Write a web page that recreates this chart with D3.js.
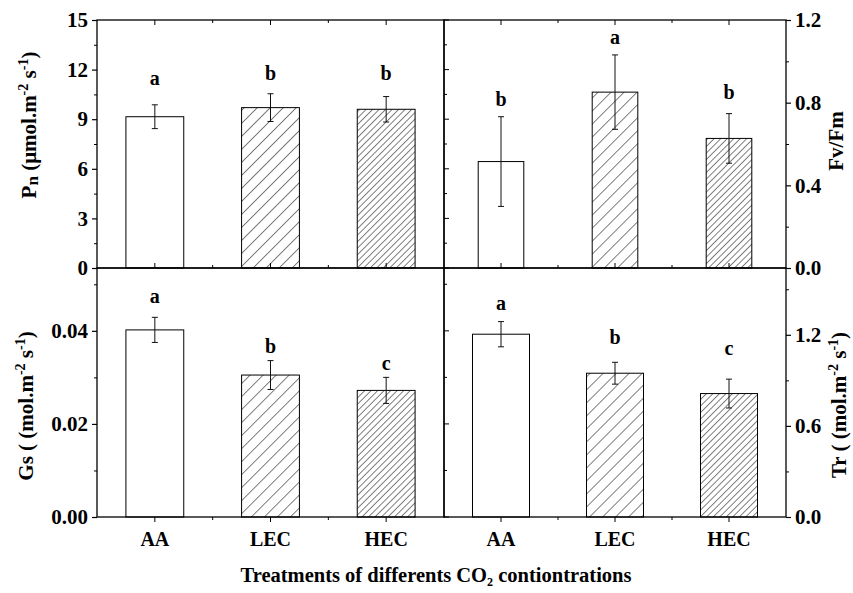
<!DOCTYPE html>
<html>
<head>
<meta charset="utf-8">
<script src="https://cdn.jsdelivr.net/npm/d3@7"></script>
<style>
  body { margin: 0; background: #fff; }
  text { font-family: "Liberation Serif", "Times New Roman", serif; font-weight: bold; fill: #000; }
</style>
</head>
<body>
<div id="chart"></div>
<script>
// ---- data ----
const categories = ["AA", "LEC", "HEC"];

const pnMean = [9.15, 9.70, 9.60];
const pnErr = [0.72, 0.84, 0.77];
const pnLetters = ["a", "b", "b"];
const pnLetterY = [11.06, 11.39, 11.39];
const pnTicks = [0, 3, 6, 9, 12, 15];
const pnMinor = [1.5, 4.5, 7.5, 10.5, 13.5];

const fvMean = [0.515, 0.851, 0.627];
const fvErr = [0.217, 0.18, 0.12];
const fvLetters = ["b", "a", "b"];
const fvLetterY = [0.786, 1.085, 0.820];
const fvTicks = [0, 0.4, 0.8, 1.2];
const fvMinor = [0.2, 0.6, 1.0];

const gsMean = [0.0402, 0.0305, 0.0272];
const gsErr = [0.0027, 0.0031, 0.0028];
const gsLetters = ["a", "b", "c"];
const gsLetterY = [0.0459, 0.0353, 0.0315];
const gsTicks = [0, 0.02, 0.04];
const gsMinor = [0.01, 0.03, 0.05];

const trMean = [1.204, 0.947, 0.813];
const trErr = [0.083, 0.072, 0.095];
const trLetters = ["a", "b", "c"];
const trLetterY = [1.361, 1.138, 1.065];
const trTicks = [0, 0.6, 1.2];
const trMinor = [0.3, 0.9, 1.5];

// ---- layout ----
const W = 853, H = 593;
const leftX = 97, midX = 444, rightX = 786;
const topY = 20, midY = 268, bottomY = 517;

const svg = d3.select("#chart").append("svg")
  .attr("width", W).attr("height", H);

const defs = svg.append("defs");
function hatch(id, gap) {
  const p = defs.append("pattern")
    .attr("id", id)
    .attr("patternUnits", "userSpaceOnUse")
    .attr("width", gap).attr("height", gap)
    .attr("patternTransform", "rotate(45)");
  p.append("rect").attr("width", gap).attr("height", gap).attr("fill", "white");
  p.append("line").attr("x1", 0).attr("y1", 0).attr("x2", 0).attr("y2", gap)
    .attr("stroke", "#000").attr("stroke-width", 1);
}
hatch("hatchSparse", 9.2);
hatch("hatchDense", 4.6);
const fills = ["white", "url(#hatchSparse)", "url(#hatchDense)"];

function panel(o) {
  const g = svg.append("g");
  const x = d3.scaleLinear().domain([0.5, 3.5]).range([o.x0, o.x1]);
  const y = d3.scaleLinear().domain(o.domain).range([o.y1, o.y0]);
  const rows = categories.map((c, i) => ({
    cat: c, i, mean: o.mean[i], err: o.err[i], letter: o.letters[i], ly: o.letterY[i]
  }));

  // bars
  g.selectAll("rect.bar").data(rows).enter().append("rect")
    .attr("class", "bar")
    .attr("x", d => x(d.i + 1 - o.bw / 2))
    .attr("width", d => x(d.i + 1 + o.bw / 2) - x(d.i + 1 - o.bw / 2))
    .attr("y", d => y(d.mean))
    .attr("height", d => y(0) - y(d.mean))
    .attr("fill", d => fills[d.i])
    .attr("stroke", "#000").attr("stroke-width", 1);

  // error bars
  const eb = g.selectAll("g.err").data(rows).enter().append("g")
    .attr("stroke", "#111").attr("stroke-width", 1);
  eb.append("line")
    .attr("x1", d => x(d.i + 1)).attr("x2", d => x(d.i + 1))
    .attr("y1", d => y(d.mean - d.err)).attr("y2", d => y(d.mean + d.err));
  [1, -1].forEach(s => {
    eb.append("line")
      .attr("x1", d => x(d.i + 1) - 3).attr("x2", d => x(d.i + 1) + 3)
      .attr("y1", d => y(d.mean + s * d.err)).attr("y2", d => y(d.mean + s * d.err));
  });

  // significance letters
  g.selectAll("text.letter").data(rows).enter().append("text")
    .attr("x", d => x(d.i + 1)).attr("y", d => y(d.ly))
    .attr("text-anchor", "middle").attr("font-size", 20)
    .text(d => d.letter);

  // y axis (outside)
  const axis = o.side === "left" ? d3.axisLeft : d3.axisRight;
  const ax = o.side === "left" ? o.x0 : o.x1;
  const ya = g.append("g").attr("transform", `translate(${ax},0)`)
    .call(axis(y).tickValues(o.ticks).tickFormat(o.fmt).tickSize(5).tickSizeOuter(0).tickPadding(4));
  ya.select(".domain").remove();
  ya.selectAll("text").attr("font-size", 21)
    .attr("font-family", "Liberation Serif, Times New Roman, serif").attr("font-weight", "bold");
  ya.selectAll("line").attr("stroke-width", 1.2);
  const ym = g.append("g").attr("transform", `translate(${ax},0)`)
    .call(axis(y).tickValues(o.minor).tickFormat("").tickSize(3).tickSizeOuter(0));
  ym.select(".domain").remove();

  // mirror ticks on the inner edge of left panels
  if (o.side === "left") {
    g.selectAll("line.mir").data(o.ticks.concat(o.minor)).enter().append("line")
      .attr("x1", o.x1).attr("x2", d => o.x1 + (o.ticks.includes(d) ? 5 : 3))
      .attr("y1", d => y(d)).attr("y2", d => y(d))
      .attr("stroke", "#000").attr("stroke-width", 1);
  }

  // x ticks: categories (major) and between (minor)
  const xt = [1, 2, 3].map(v => ({ v, len: 5 })).concat([1.5, 2.5].map(v => ({ v, len: 3 })));
  const dir = o.y1 === bottomY ? 1 : -1;
  g.selectAll("line.xt").data(xt).enter().append("line")
    .attr("x1", d => x(d.v)).attr("x2", d => x(d.v))
    .attr("y1", o.y1).attr("y2", d => o.y1 + dir * d.len)
    .attr("stroke", "#000").attr("stroke-width", 1);
  if (o.y0 === topY) {
    g.selectAll("line.xtt").data(xt).enter().append("line")
      .attr("x1", d => x(d.v)).attr("x2", d => x(d.v))
      .attr("y1", o.y0).attr("y2", d => o.y0 + d.len)
      .attr("stroke", "#000").attr("stroke-width", 1);
  }

  // frame
  g.append("rect")
    .attr("x", o.x0).attr("y", o.y0)
    .attr("width", o.x1 - o.x0).attr("height", o.y1 - o.y0)
    .attr("fill", "none").attr("stroke", "#000").attr("stroke-width", 1.3);

  return { x, y };
}

const fmtInt = d3.format("d"), fmt1 = d3.format(".1f"), fmt2 = d3.format(".2f");

panel({ x0: leftX, x1: midX, y0: topY, y1: midY, domain: [0, 15], ticks: pnTicks, minor: pnMinor, fmt: fmtInt,
  mean: pnMean, err: pnErr, letters: pnLetters, letterY: pnLetterY, side: "left", bw: 0.5 });
panel({ x0: midX, x1: rightX, y0: topY, y1: midY, domain: [0, 1.2], ticks: fvTicks, minor: fvMinor, fmt: fmt1,
  mean: fvMean, err: fvErr, letters: fvLetters, letterY: fvLetterY, side: "right", bw: 0.4 });
const bl = panel({ x0: leftX, x1: midX, y0: midY, y1: bottomY, domain: [0, 0.0535], ticks: gsTicks, minor: gsMinor, fmt: fmt2,
  mean: gsMean, err: gsErr, letters: gsLetters, letterY: gsLetterY, side: "left", bw: 0.5 });
const br = panel({ x0: midX, x1: rightX, y0: midY, y1: bottomY, domain: [0, 1.64], ticks: trTicks, minor: trMinor, fmt: fmt1,
  mean: trMean, err: trErr, letters: trLetters, letterY: trLetterY, side: "right", bw: 0.5 });

// category labels under the bottom panels
[bl, br].forEach(p => {
  svg.append("g").selectAll("text").data(categories).enter().append("text")
    .attr("x", (d, i) => p.x(i + 1)).attr("y", 546)
    .attr("text-anchor", "middle").attr("font-size", 20)
    .text(d => d);
});

// axis titles
function ylabel(x, y, parts) {
  const t = svg.append("text")
    .attr("transform", `translate(${x},${y}) rotate(-90)`)
    .attr("text-anchor", "middle").attr("font-size", 21);
  parts.forEach(([s, kind]) => {
    const ts = t.append("tspan").text(s);
    if (kind === "sup") ts.attr("font-size", 14).attr("dy", -8);
    if (kind === "sub") ts.attr("font-size", 17).attr("dy", 2);
    if (kind === "back") ts.attr("dy", 8);
    if (kind === "backsub") ts.attr("dy", -2);
  });
}
ylabel(36, 125, [["P"], ["n", "sub"], [" (μmol.m", "backsub"], ["-2", "sup"], [" s", "back"], ["-1", "sup"], [")", "back"]]);
ylabel(33, 406, [["Gs ( (mol.m"], ["-2", "sup"], [" s", "back"], ["-1", "sup"], [")", "back"]]);
ylabel(843, 141, [["Fv/Fm"]]);
ylabel(846, 405, [["Tr ( (mol.m"], ["-2", "sup"], [" s", "back"], ["-1", "sup"], [")", "back"]]);

const xt = svg.append("text")
  .attr("x", 436).attr("y", 582)
  .attr("text-anchor", "middle").attr("font-size", 20.5);
xt.append("tspan").text("Treatments of differents CO");
xt.append("tspan").text("2").attr("font-size", 12).attr("dy", 4);
xt.append("tspan").text(" contiontrations").attr("dy", -4);
</script>
</body>
</html>
